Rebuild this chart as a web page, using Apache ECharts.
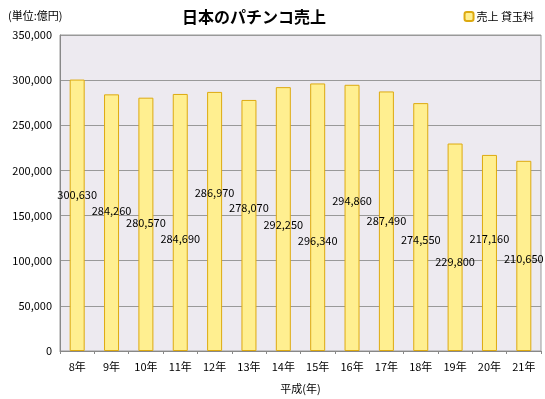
<!DOCTYPE html>
<html>
<head>
<meta charset="utf-8">
<script src="https://cdn.jsdelivr.net/npm/echarts@6/dist/echarts.min.js"></script>
<style>
html, body { margin: 0; padding: 0; background: #fff; }
#container { width: 545px; height: 399px; }
</style>
</head>
<body>
<div id="container"></div>
<script>
/* 日本のパチンコ売上 */
var years = ['8年', '9年', '10年', '11年', '12年', '13年', '14年', '15年', '16年', '17年', '18年', '19年', '20年', '21年'];
var sales = [300630, 284260, 280570, 284690, 286970, 278070, 292250, 296340, 294860, 287490, 274550, 229800, 217160, 210650];
var yTicks = [0, 50000, 100000, 150000, 200000, 250000, 300000, 350000];
// label height above the axis (px), staggered like the original
var labelLift = [156, 140, 128, 112, 158, 143, 126, 110, 150, 130, 111, 89, 112, 92];

var font = '"Noto Sans CJK JP", sans-serif';
var dom = document.getElementById("container");
var myChart = echarts.init(dom);
var option = null;

option = {
    backgroundColor: '#fff',
    textStyle: { fontFamily: font },
    title: [
        {
            text: '日本のパチンコ売上',
            left: 249, top: 4, textAlign: 'center',
            textStyle: { fontFamily: font, fontSize: 16, fontWeight: 'bold', color: '#000' }
        },
        {
            text: '(単位:億円)',
            left: 3, top: 5,
            textStyle: { fontFamily: font, fontSize: 11, fontWeight: 'normal', color: '#000' }
        }
    ],
    legend: {
        right: 6, top: 6,
        itemWidth: 9, itemHeight: 9, itemGap: 4,
        textStyle: { fontFamily: font, fontSize: 11, color: '#000', padding: [0, 0, 0, -2] },
        data: ['売上 貸玉料']
    },
    grid: {
        left: 60, right: 4, top: 35, bottom: 47,
        show: true,
        backgroundColor: '#EDEAF0',
        borderColor: '#999',
        borderWidth: 1
    },
    xAxis: {
        type: 'category',
        data: years,
        name: '平成(年)',
        nameLocation: 'middle',
        nameGap: 32,
        nameTextStyle: { fontFamily: font, fontSize: 11, color: '#000' },
        axisLine: { lineStyle: { color: '#888' } },
        axisTick: { show: true, length: 3, lineStyle: { color: '#888' } },
        axisLabel: { fontFamily: font, fontSize: 11, color: '#000', margin: 10 }
    },
    yAxis: {
        type: 'value',
        min: yTicks[0],
        max: yTicks[yTicks.length - 1],
        interval: 50000,
        axisLine: { show: true, lineStyle: { color: '#888' } },
        axisTick: { show: false },
        axisLabel: {
            fontFamily: font, fontSize: 11, color: '#000', margin: 8,
            formatter: function (v) { return v.toLocaleString('en-US'); }
        },
        splitLine: { lineStyle: { color: '#999', width: 1 } }
    },
    series: [
        {
            name: '売上 貸玉料',
            type: 'bar',
            barWidth: 15,
            itemStyle: { color: '#FFEF90', borderColor: '#DDAA10', borderWidth: 1 },
            label: {
                show: true,
                position: ['50%', '100%'],
                align: 'center',
                verticalAlign: 'middle',
                fontFamily: font,
                fontSize: 11,
                color: '#000',
                formatter: function (p) { return p.value.toLocaleString('en-US'); }
            },
            data: sales.map(function (v, i) {
                return { value: v, label: { offset: [0, -labelLift[i]] } };
            })
        }
    ]
};
if (option && typeof option === "object") {
    myChart.setOption(option, true);
}
</script>
</body>
</html>
